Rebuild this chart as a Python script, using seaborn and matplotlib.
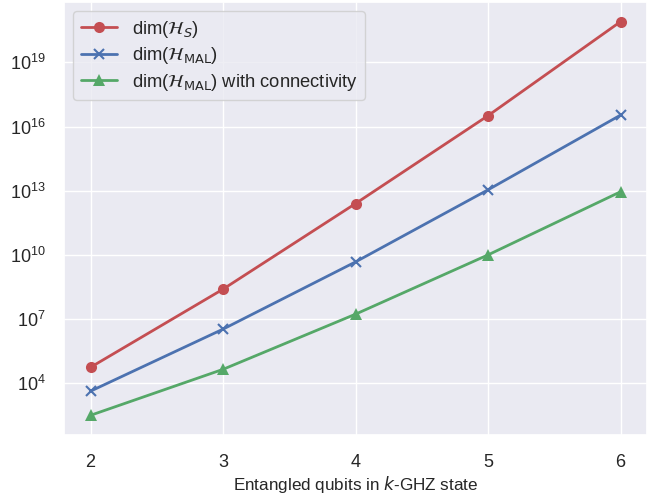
import matplotlib
matplotlib.use("Agg")
import matplotlib.pyplot as plt
import seaborn as sns
import pandas as pd

k_values = [2, 3, 4, 5, 6]
dim_hs = [5.6e4, 2.5e8, 2.5e12, 3.2e16, 7.9e20]
dim_mal = [4.3e3, 3.4e6, 4.7e9, 1.1e13, 3.4e16]
dim_mal_conn = [3.2e2, 4.5e4, 1.7e7, 1.0e10, 8.9e12]

labels = [r"dim($\mathcal{H}_S$)",
          r"dim($\mathcal{H}_{\mathrm{MAL}}$)",
          r"dim($\mathcal{H}_{\mathrm{MAL}}$) with connectivity"]

sns.set_theme(style="darkgrid")
plt.rcParams['font.family'] = ['Liberation Sans', 'DejaVu Sans']
pal = sns.color_palette("deep")

fig, ax = plt.subplots(figsize=(6.62, 4.96), dpi=100)
fig.subplots_adjust(left=64/662, right=647/662, top=1-2/496, bottom=1-435/496)

series = [(dim_hs, labels[0], pal[3], "o", 8),
          (dim_mal, labels[1], pal[0], "x", 7),
          (dim_mal_conn, labels[2], pal[2], "^", 8)]
for vals, lab, col, mk, ms in series:
    df = pd.DataFrame({"k": k_values, "dim": vals})
    sns.lineplot(data=df, x="k", y="dim", ax=ax, color=col, marker=mk,
                 markersize=ms, markeredgecolor=col, markeredgewidth=1.5 if mk == "x" else 0,
                 linewidth=2, label=lab)

ax.set_yscale("log")
ax.set_yticks([1e4, 1e7, 1e10, 1e13, 1e16, 1e19])
ax.set_xticks(k_values)
ax.set_xlabel(r"Entangled qubits in $k$-GHZ state", fontsize=12.3, labelpad=1.5)
ax.set_ylabel("")
ax.tick_params(axis="x", labelsize=13, pad=8)
ax.tick_params(axis="y", labelsize=13, pad=7)
ax.legend(loc="upper left", fontsize=13.2, labelspacing=0.3,
          borderaxespad=0.5)

fig.savefig("out.png", dpi=100)
